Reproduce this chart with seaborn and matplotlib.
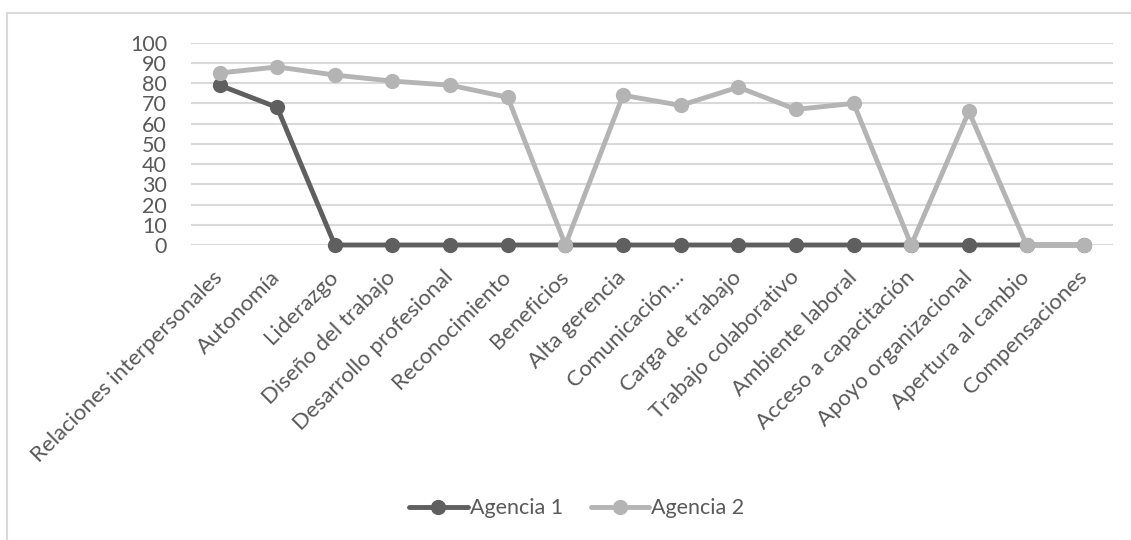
import matplotlib
matplotlib.use("Agg")
import matplotlib.pyplot as plt
from matplotlib.patches import Rectangle
import seaborn as sns
import pandas as pd

dimensiones = [
    "Relaciones interpersonales", "Autonomía", "Liderazgo", "Diseño del trabajo",
    "Desarrollo profesional", "Reconocimiento", "Beneficios", "Alta gerencia",
    "Comunicación…", "Carga de trabajo", "Trabajo colaborativo", "Ambiente laboral",
    "Acceso a capacitación", "Apoyo organizacional", "Apertura al cambio", "Compensaciones",
]
agencia_1 = [79, 68, 0, 0, 0, 0, 0, 0, 0, 0, 0, 0, 0, 0, 0, 0]
agencia_2 = [85, 88, 84, 81, 79, 73, 0, 74, 69, 78, 67, 70, 0, 66, 0, 0]
series = ["Agencia 1", "Agencia 2"]
y_ticks = list(range(0, 101, 10))

df = pd.concat([
    pd.DataFrame({"Dimensión": dimensiones, "Puntaje": agencia_1, "Agencia": series[0]}),
    pd.DataFrame({"Dimensión": dimensiones, "Puntaje": agencia_2, "Agencia": series[1]}),
], ignore_index=True)

sns.set_theme(style="white")
plt.rcParams["font.family"] = ["Lato", "DejaVu Sans"]
text_color = "#595959"
grid_color = "#d9d9d9"
palette = {"Agencia 1": "#5f5f5f", "Agencia 2": "#b4b4b4"}
fs = 15.5
lw = 3.5
ms = 11

fig = plt.figure(figsize=(11.31, 5.40), dpi=100)
ax = fig.add_axes([0.1686, 0.5463, 0.9841 - 0.1686, 0.921 - 0.5463])

sns.lineplot(data=df, x="Dimensión", y="Puntaje", hue="Agencia", palette=palette,
             marker="o", markersize=ms, markeredgewidth=0, linewidth=lw,
             sort=False, ax=ax, legend=False, clip_on=False)

ax.set_xlim(-0.5, len(dimensiones) - 0.5)
ax.set_ylim(0, 100)
ax.set_yticks(y_ticks)
ax.set_yticklabels([str(v) for v in y_ticks], fontsize=fs, color=text_color)
ax.set_xticks(range(len(dimensiones)))
ax.set_xticklabels(dimensiones, rotation=45, ha="right", va="center",
                   rotation_mode="anchor", fontsize=fs + 0.5, color=text_color)
ax.tick_params(axis="both", length=0)
ax.tick_params(axis="y", pad=17)
ax.tick_params(axis="x", pad=21)
ax.set_xlabel("")
ax.set_ylabel("")
for side in ax.spines.values():
    side.set_visible(False)
for v in y_ticks:
    ax.axhline(v, color=grid_color, linewidth=1.5, zorder=0.5)

# Legend with line+marker handles, centred under the chart
handles = [plt.Line2D([], [], color=palette[s], marker="o", markersize=ms,
                      markeredgewidth=0, linewidth=lw) for s in series]
fig.legend(handles, series, loc="center", bbox_to_anchor=(0.51, 0.059), ncol=2,
           frameon=False, fontsize=fs, labelcolor=text_color,
           handlelength=2.7, handletextpad=0.1, columnspacing=1.3)

# Chart frame
fig.patches.append(Rectangle((6.5 / 1131, -0.1), 1.2, 1 - 13 / 540 + 0.1,
                             transform=fig.transFigure, fill=False,
                             edgecolor=grid_color, linewidth=1.5))

fig.savefig("out.png", dpi=100)
